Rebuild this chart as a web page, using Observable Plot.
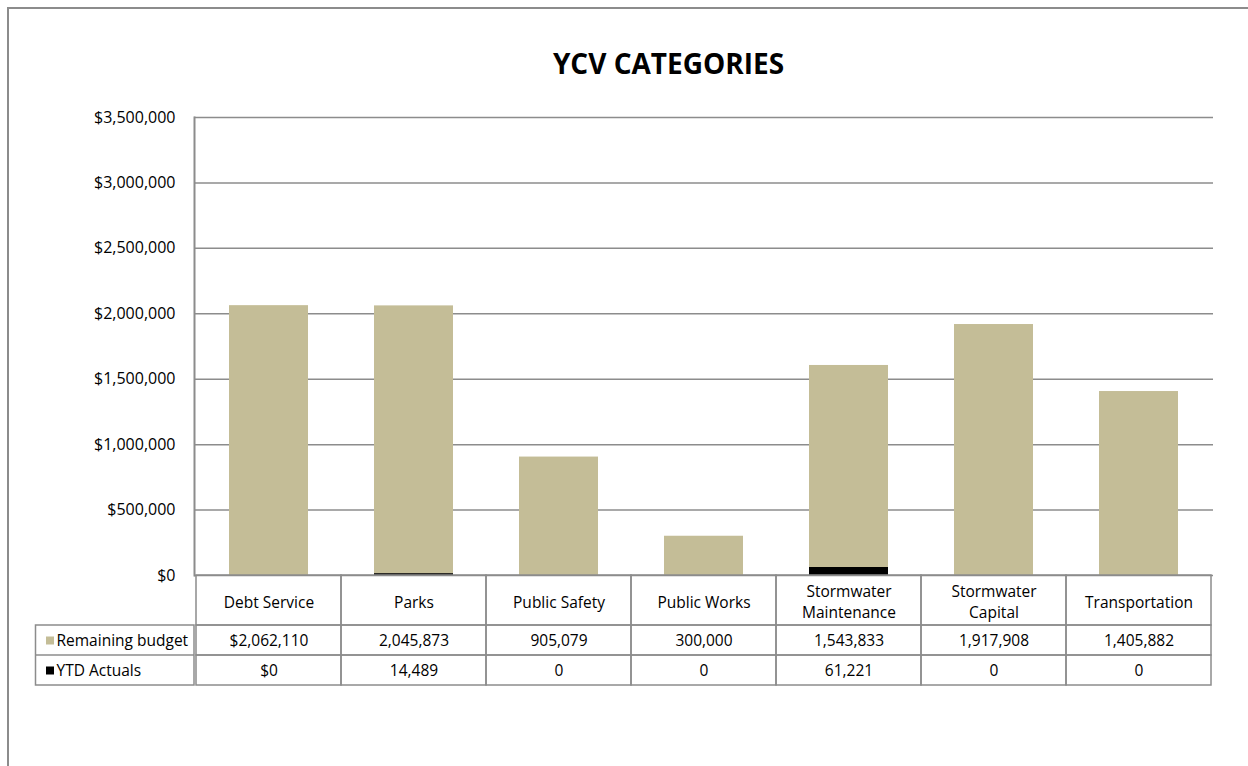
<!DOCTYPE html>
<html><head><meta charset="utf-8">
<script src="https://cdn.jsdelivr.net/npm/d3@7"></script>
<script src="https://cdn.jsdelivr.net/npm/@observablehq/plot@0.6"></script>
<style>
html,body{margin:0;padding:0;background:#fff;}
#chart{position:relative;width:1248px;height:766px;overflow:hidden;}
#frame{position:absolute;left:7px;top:7px;width:1400px;height:900px;border-left:2px solid #8c8c8c;border-top:2px solid #8c8c8c;box-sizing:border-box;pointer-events:none;}
#chart svg{position:absolute;left:0;top:0;}
</style></head><body>
<div id="chart"><div id="frame"></div></div>
<script>
const title = "YCV CATEGORIES";
const categories = ["Debt Service","Parks","Public Safety","Public Works","Stormwater Maintenance","Stormwater Capital","Transportation"];
const headerLabels = ["Debt Service","Parks","Public Safety","Public Works","Stormwater\nMaintenance","Stormwater\nCapital","Transportation"];
const remainingBudget = [2062110,2045873,905079,300000,1543833,1917908,1405882];
const ytdActuals = [0,14489,0,0,61221,0,0];
const seriesNames = ["Remaining budget","YTD Actuals"];
const seriesColors = ["#C4BD97","#000000"];
const yTicks = [0,500000,1000000,1500000,2000000,2500000,3000000,3500000];

const rows = categories.flatMap((c,i)=>[
  {category:c, series:"YTD Actuals", value:ytdActuals[i]},
  {category:c, series:"Remaining budget", value:remainingBudget[i]}
]);
const fmt = d3.format(",");
const cellFmt = (v,i)=> i===0 ? "$"+fmt(v) : fmt(v);

const font = "'Open Sans', sans-serif";
const fs = 15.5;
const grid = "#8c8c8c";
const tableRows = [[0,50],[50,80],[80,110]];

const plot = Plot.plot({
  width:1248, height:766,
  marginLeft:194, marginRight:35, marginTop:117, marginBottom:191,
  style:{fontFamily:font, fontSize:fs+"px", color:"#000", background:"transparent"},
  x:{domain:categories, padding:0, axis:null},
  y:{domain:[0,3500000], axis:null},
  color:{domain:seriesNames, range:seriesColors},
  marks:[
    Plot.ruleY(yTicks, {stroke:grid, strokeWidth:1.5, strokeOpacity:1}),
    Plot.axisY({ticks:yTicks, tickFormat:d3.format("$,"), tickSize:0, tickPadding:19, fontSize:16, label:null}),
    Plot.barY(rows, {x:"category", y:"value", fill:"series", insetLeft:33, insetRight:33}),
    Plot.frame({anchor:"left", stroke:grid, strokeWidth:2}),
    ...tableRows.map(([t,b])=>Plot.barY(categories, {x:d=>d, y1:0, y2:0, insetTop:t, insetBottom:-b, fill:"none", stroke:grid, strokeWidth:1.5})),
    Plot.text(categories, {x:d=>d, y:0, dy:25.5, text:(d,i)=>headerLabels[i], lineHeight:1.35, fontSize:fs}),
    Plot.text(categories, {x:d=>d, y:0, dy:65.5, text:(d,i)=>cellFmt(remainingBudget[i],i), fontSize:fs}),
    Plot.text(categories, {x:d=>d, y:0, dy:95.5, text:(d,i)=>cellFmt(ytdActuals[i],i), fontSize:fs}),
    Plot.text([title], {frameAnchor:"top", lineAnchor:"middle", dy:-52, dx:-35.5, fontSize:28, fontWeight:"bold"})
  ]
});

// Data-table legend column (series names with swatches)
const svg = d3.select(plot);
const xs = plot.scale("x"), ys = plot.scale("y");
const left = xs.range[0], y0 = ys.apply(0);
const colLeft = left - 158.5;
const g = svg.append("g");
g.append("rect").attr("x",colLeft).attr("y",y0+50).attr("width",left-colLeft).attr("height",60)
  .attr("fill","none").attr("stroke",grid).attr("stroke-width",1.5);
g.append("line").attr("x1",colLeft).attr("x2",left).attr("y1",y0+80).attr("y2",y0+80)
  .attr("stroke",grid).attr("stroke-width",1.5);
seriesNames.forEach((s,i)=>{
  const cy = y0 + 65.5 + i*30;
  g.append("rect").attr("x",colLeft+10.5).attr("y",cy-4).attr("width",8).attr("height",8).attr("fill",seriesColors[i]);
  g.append("text").attr("x",colLeft+21).attr("y",cy).attr("dy","0.35em").attr("text-anchor","start")
    .attr("font-family",font).attr("font-size",fs).text(s);
});

document.getElementById("chart").appendChild(plot);
</script>
</body></html>
